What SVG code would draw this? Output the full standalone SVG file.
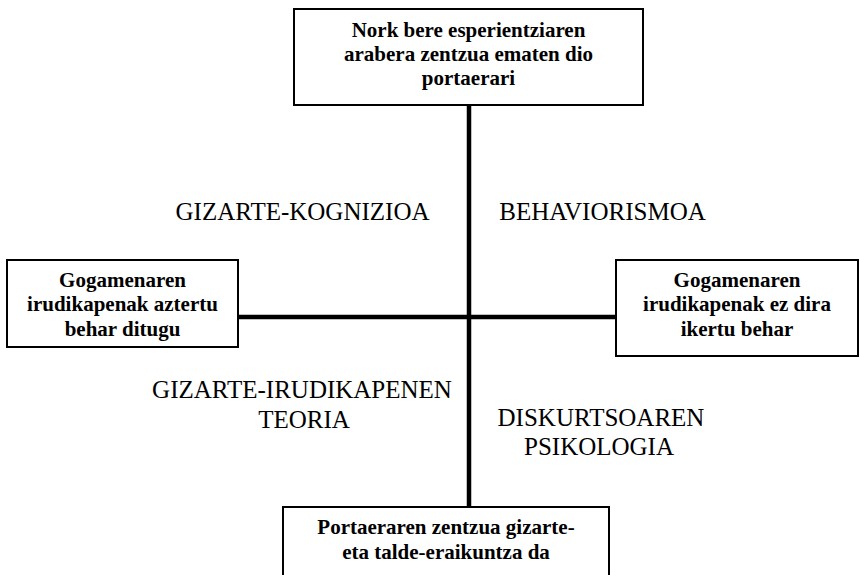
<svg xmlns="http://www.w3.org/2000/svg" width="860" height="575" viewBox="0 0 860 575">
<style>
.box{fill:#fff;stroke:#000;stroke-width:2}
.bt{font-weight:bold;font-size:21px;text-anchor:middle;fill:#000}
.lb{font-size:25px;fill:#000;text-anchor:middle}
.ln{stroke:#000;stroke-width:4.5;fill:none}
</style>
<rect width="860" height="575" fill="#fff"/>
<g id="connectors">
<line class="ln" x1="469" y1="105" x2="469" y2="507"/>
<line class="ln" x1="238" y1="317" x2="616" y2="317"/>
</g>
<g font-family="Liberation Serif, Times New Roman, DejaVu Serif, serif">
<g id="top">
<rect class="box" x="294" y="9" width="349" height="96"/>
<text class="bt" x="468.5" y="36.5">Nork bere esperientziaren</text>
<text class="bt" x="468.5" y="61">arabera zentzua ematen dio</text>
<text class="bt" x="468.5" y="85">portaerari</text>
</g>
<g id="left">
<rect class="box" x="7" y="260" width="231" height="87"/>
<text class="bt" x="122.5" y="286.5">Gogamenaren</text>
<text class="bt" x="122.5" y="311">irudikapenak aztertu</text>
<text class="bt" x="122.5" y="335.5">behar ditugu</text>
</g>
<g id="right">
<rect class="box" x="616" y="260" width="242" height="96"/>
<text class="bt" x="737" y="286.5">Gogamenaren</text>
<text class="bt" x="737" y="311">irudikapenak ez dira</text>
<text class="bt" x="737" y="335.5">ikertu behar</text>
</g>
<g id="bottom">
<rect class="box" x="283" y="507" width="326" height="80"/>
<text class="bt" x="446" y="534">Portaeraren zentzua gizarte-</text>
<text class="bt" x="446" y="558.5">eta talde-eraikuntza da</text>
</g>
<g id="labels">
<text class="lb" x="302.5" y="220">GIZARTE-KOGNIZIOA</text>
<text class="lb" x="602.5" y="220">BEHAVIORISMOA</text>
<text class="lb" x="302" y="398">GIZARTE-IRUDIKAPENEN</text>
<text class="lb" x="304" y="428">TEORIA</text>
<text class="lb" x="601" y="426">DISKURTSOAREN</text>
<text class="lb" x="599" y="455">PSIKOLOGIA</text>
</g>
</g>
</svg>
